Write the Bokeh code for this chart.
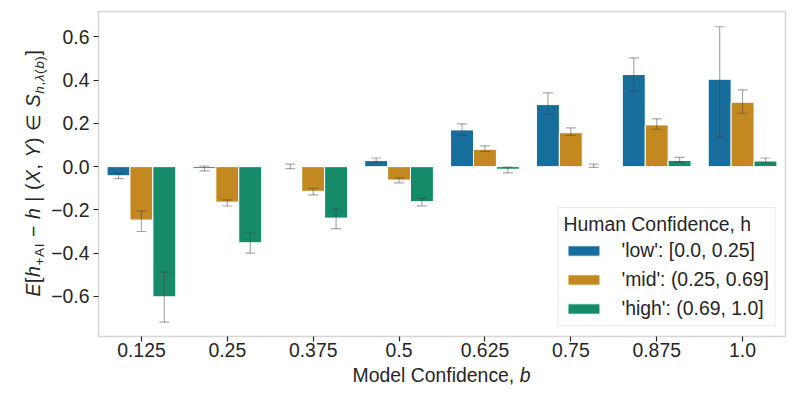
from bokeh.plotting import figure
from bokeh.layouts import row, column
from bokeh.models import (ColumnDataSource, FactorRange, Range1d, FixedTicker,
                          CustomJSTickFormatter, Legend, LegendItem, Div)
from bokeh.transform import dodge
from bokeh.embed import file_html
from bokeh.resources import INLINE

# ---- data ----
b_labels = ["0.125", "0.25", "0.375", "0.5", "0.625", "0.75", "0.875", "1.0"]
low = [-0.042, -0.008, 0.001, 0.028, 0.170, 0.287, 0.426, 0.404]
low_lo = [-0.055, -0.020, -0.009, 0.018, 0.145, 0.244, 0.349, 0.134]
low_hi = [-0.030, 0.003, 0.012, 0.040, 0.198, 0.341, 0.503, 0.647]
mid = [-0.247, -0.164, -0.114, -0.062, 0.080, 0.157, 0.193, 0.298]
mid_lo = [-0.300, -0.182, -0.131, -0.075, 0.071, 0.145, 0.173, 0.247]
mid_hi = [-0.205, -0.154, -0.100, -0.052, 0.096, 0.179, 0.221, 0.355]
high = [-0.602, -0.352, -0.238, -0.162, -0.012, 0.002, 0.029, 0.026]
high_lo = [-0.719, -0.400, -0.287, -0.181, -0.029, -0.003, 0.020, 0.018]
high_hi = [-0.488, -0.307, -0.198, -0.147, -0.002, 0.012, 0.043, 0.040]
y_ticks = [-0.6, -0.4, -0.2, 0.0, 0.2, 0.4, 0.6]
series_names = ["'low': [0.0, 0.25]", "'mid': (0.25, 0.69]", "'high': (0.69, 1.0]"]
colors = ["#176d9c", "#c38820", "#168b6a"]

FONT = "Liberation Sans"
FS = "19.4px"
TXT = "#262626"

src = ColumnDataSource(dict(b=b_labels, low=low, low_lo=low_lo, low_hi=low_hi,
                            mid=mid, mid_lo=mid_lo, mid_hi=mid_hi,
                            high=high, high_lo=high_lo, high_hi=high_hi))

MAIN_W, MAIN_H = 741, 366
LEFT_W = 48
BOT_H = 25
TOTAL_W = LEFT_W + MAIN_W

p = figure(width=MAIN_W, height=MAIN_H, x_range=FactorRange(factors=b_labels),
           y_range=Range1d(-0.7856, 0.7176), output_backend="svg",
           toolbar_location=None, min_border_left=50, min_border_right=4,
           min_border_top=11, min_border_bottom=30)
p.background_fill_color = "white"
p.border_fill_color = "white"
p.outline_line_color = "#d6d6d6"
p.outline_line_width = 1.5
p.xgrid.visible = False
p.ygrid.visible = False

bw = 0.8 / 3
offsets = [-bw, 0.0, bw]
keys = ["low", "mid", "high"]
items = []
for k, off, col, name in zip(keys, offsets, colors, series_names):
    r = p.vbar(x=dodge("b", off, range=p.x_range), top=k, bottom=0, width=bw,
               source=src, fill_color=col, line_color="white", line_width=1)
    items.append(LegendItem(label=name, renderers=[r]))
    ec, ea, ew = "#424242", 0.45, 1.2
    p.segment(x0=dodge("b", off, range=p.x_range), x1=dodge("b", off, range=p.x_range),
              y0=k + "_lo", y1=k + "_hi", source=src, line_color=ec, line_alpha=ea, line_width=ew)
    cap = 0.058
    for end in ("_lo", "_hi"):
        p.segment(x0=dodge("b", off - cap, range=p.x_range), x1=dodge("b", off + cap, range=p.x_range),
                  y0=k + end, y1=k + end, source=src, line_color=ec, line_alpha=ea, line_width=ew)

for ax in (p.xaxis[0], p.yaxis[0]):
    ax.axis_line_color = None
    ax.major_tick_line_color = TXT
    ax.major_tick_line_width = 1.2
    ax.major_tick_out = 5
    ax.major_tick_in = 0
    ax.minor_tick_line_color = None
    ax.major_label_text_font = FONT
    ax.major_label_text_font_size = FS
    ax.major_label_text_color = TXT
p.xaxis.major_label_standoff = 1
p.yaxis.major_label_standoff = 4
p.yaxis.ticker = FixedTicker(ticks=y_ticks)
p.yaxis.formatter = CustomJSTickFormatter(code="""
    const v = Math.abs(tick) < 1e-9 ? 0 : tick;
    return (v < 0 ? "\u2212" : "") + Math.abs(v).toFixed(1);
""")

legend = Legend(items=items, location="bottom_right", title="Human Confidence, h")
legend.margin = 10
legend.padding = 5
legend.spacing = 6
legend.title_standoff = 3
legend.title_text_font = FONT
legend.title_text_font_size = FS
legend.title_text_font_style = "normal"
legend.title_text_color = TXT
legend.label_text_font = FONT
legend.label_text_font_size = FS
legend.label_text_color = TXT
legend.label_height = 22
legend.label_standoff = 18
legend.glyph_width = 40
legend.glyph_height = 13
legend.border_line_color = "#d6d6d6"
legend.border_line_width = 1
legend.background_fill_alpha = 0.8
p.add_layout(legend)

# ---- axis titles as HTML (mixed italic / subscripts) ----
base_font = f"font-family:'{FONT}'; font-size:{FS}; color:{TXT}; white-space:nowrap;"
sub = "font-size:70%; vertical-align:-0.3em; line-height:0;"
ylabel_html = (
    f"<div style=\"position:relative; width:{LEFT_W}px; height:{MAIN_H}px; overflow:visible;\">"
    f"<div style=\"position:absolute; left:{33.3 - 160}px; top:{172.5 - 11}px; width:320px; height:22px;"
    f" line-height:22px; text-align:center; letter-spacing:0.6px; transform:rotate(-90deg);"
    f" transform-origin:50% 50%; {base_font}\">"
    f"<i>E</i>[<i>h</i><span style=\"{sub}\">+AI</span> \u2212 <i>h</i> | (<i>X</i>, <i>Y</i>) \u2208 "
    f"<i>S</i><span style=\"{sub}\"><i>h</i>,<i>\u03bb</i>(<i>b</i>)</span>]"
    f"</div></div>"
)
ylab = Div(text=ylabel_html, width=LEFT_W, height=MAIN_H, margin=0,
           styles={"overflow": "visible"})

xlabel_html = (
    f"<div style=\"position:relative; width:{TOTAL_W}px; height:{BOT_H}px; overflow:visible;\">"
    f"<div style=\"position:absolute; left:{441.5 - 200}px; top:0px; width:400px; height:19.4px;"
    f" line-height:19.4px; text-align:center; {base_font}\">"
    f"Model Confidence, <i>b</i></div></div>"
)
xlab = Div(text=xlabel_html, width=TOTAL_W, height=BOT_H, margin=0,
           styles={"overflow": "visible"})

layout = column(row(ylab, p, spacing=0), xlab, spacing=0)
open("out.html", "w").write(file_html(layout, INLINE))
